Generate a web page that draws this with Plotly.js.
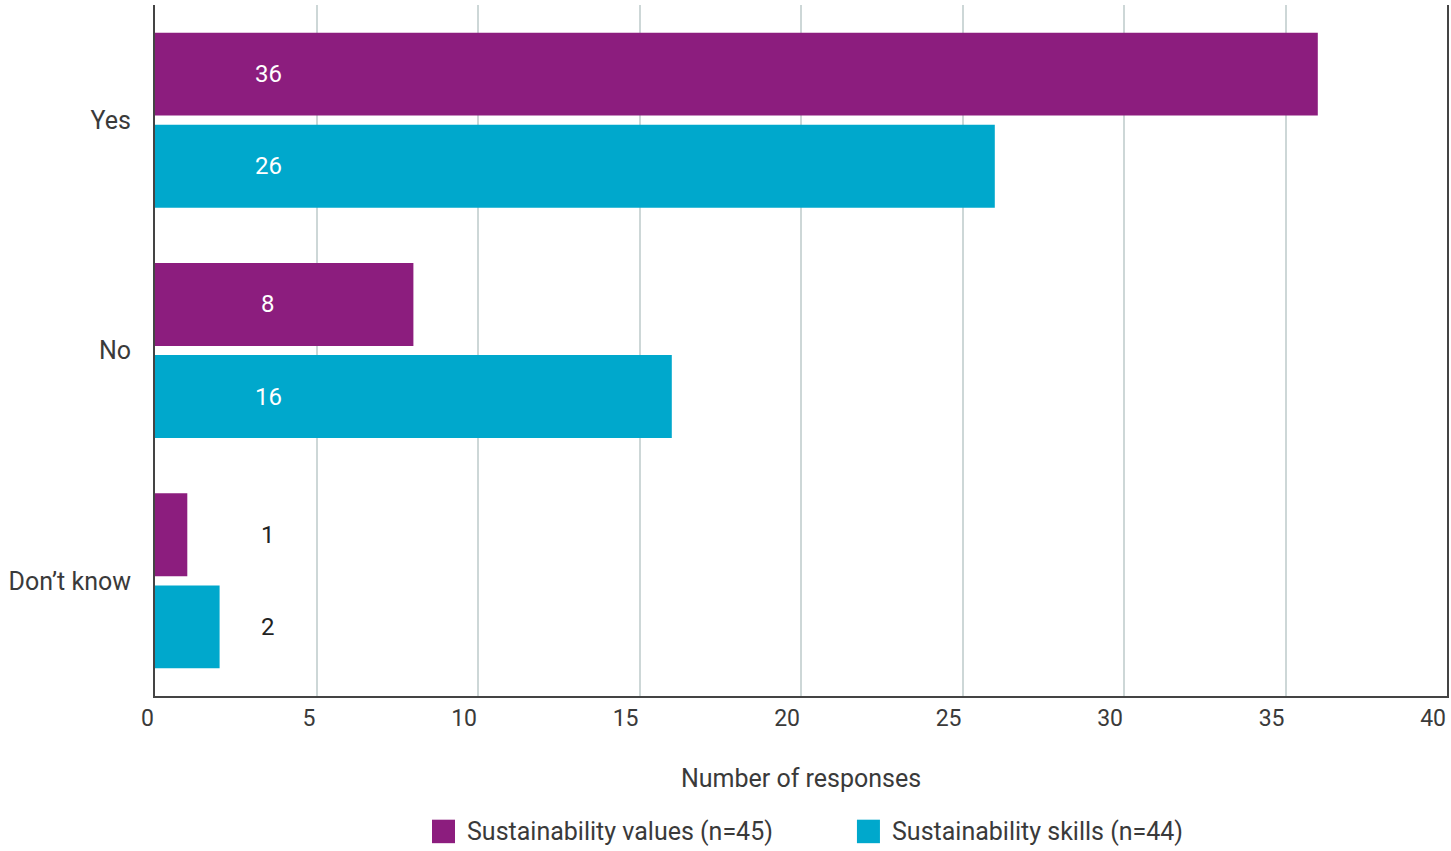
<!DOCTYPE html>
<html>
<head>
<meta charset="utf-8">
<script src="https://cdn.plot.ly/plotly-3.0.1.min.js"></script>
<style>html,body{margin:0;padding:0;background:#fff;}#chart{width:1451px;height:851px;}</style>
</head>
<body>
<div id="chart"></div>
<script>
const categories = ["Yes", "No", "Don\u2019t know"];
const valuesSeries = [36, 8, 1];
const skillsSeries = [26, 16, 2];
const seriesNames = ["Sustainability values (n=45)", "Sustainability skills (n=44)"];
const seriesColors = ["#8c1d7e", "#00a8cc"];
const xTicks = [0, 5, 10, 15, 20, 25, 30, 35, 40];
const labelX = 3.5;

const FONT = "Roboto, 'Open Sans', sans-serif";
const TEXT = "#3a3a3a";

const allSeries = [valuesSeries, skillsSeries];

const traces = allSeries.map((vals, i) => ({
  type: "bar",
  orientation: "h",
  y: categories,
  x: vals,
  name: seriesNames[i],
  marker: { color: seriesColors[i] },
  hoverinfo: "x+y",
  showlegend: false
}));

const annotations = [];
allSeries.forEach((vals, j) => {
  vals.forEach((v, i) => {
    annotations.push({
      xref: "x", yref: "y",
      x: labelX, y: i + (j === 0 ? -0.2 : 0.2),
      text: String(v),
      showarrow: false,
      font: { family: FONT, size: 24, color: v > labelX ? "#ffffff" : "#222222" }
    });
  });
});

// custom legend (larger swatches than Plotly's built-in legend)
const legendSwatchX = [0.2144, 0.5433];
const swatchW = 0.0178;
const shapes = [];
seriesNames.forEach((name, i) => {
  shapes.push({
    type: "rect", xref: "paper", yref: "paper",
    x0: legendSwatchX[i], x1: legendSwatchX[i] + swatchW,
    y0: -0.213, y1: -0.179,
    fillcolor: seriesColors[i], line: { width: 0 }
  });
  annotations.push({
    xref: "paper", yref: "paper",
    x: legendSwatchX[i] + swatchW + 0.008, y: -0.196,
    xanchor: "left", yanchor: "middle",
    text: name, showarrow: false,
    font: { family: FONT, size: 25, color: TEXT }
  });
});

const layout = {
  width: 1451, height: 851,
  paper_bgcolor: "#ffffff", plot_bgcolor: "#ffffff",
  margin: { l: 155, r: 4, t: 5, b: 155, autoexpand: false },
  barmode: "group",
  bargap: 0.2,
  bargroupgap: 0.1,
  font: { family: FONT, size: 22, color: TEXT },
  xaxis: {
    range: [0, 40],
    tickvals: xTicks,
    ticktext: xTicks.map(String),
    showgrid: true, gridcolor: "#cdd7d7", gridwidth: 1.5,
    zeroline: false,
    showline: true, linecolor: "#444444", linewidth: 2,
    ticks: "", ticklabelposition: "outside left", ticklabeloverflow: "allow",
    tickfont: { family: FONT, size: 23, color: TEXT },
    title: { text: "Number of responses", font: { family: FONT, size: 25, color: TEXT }, standoff: 39 },
    fixedrange: true
  },
  yaxis: {
    autorange: "reversed",
    showgrid: false, zeroline: false,
    showline: true, mirror: true, linecolor: "#444444", linewidth: 2,
    ticks: "", ticklabelstandoff: 17,
    tickfont: { family: FONT, size: 25, color: TEXT },
    fixedrange: true
  },
  shapes: shapes,
  annotations: annotations,
  showlegend: false
};

Plotly.newPlot("chart", traces, layout, { displayModeBar: false, responsive: false });
</script>
</body>
</html>
